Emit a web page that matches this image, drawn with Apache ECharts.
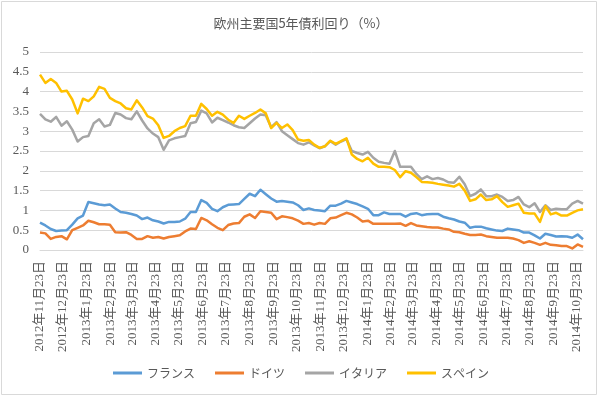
<!DOCTYPE html>
<html>
<head>
<meta charset="utf-8">
<script src="https://cdn.jsdelivr.net/npm/echarts@6/dist/echarts.min.js"></script>
<style>
  html, body { margin: 0; padding: 0; background: #fff; }
  #chart { width: 602px; height: 399px; }
</style>
</head>
<body>
<div id="chart"></div>
<script>
  // weekly observation dates (Fridays)
  const weeks = [
    '2012-11-23', '2012-11-30', '2012-12-07', '2012-12-14', '2012-12-21', '2012-12-28',
    '2013-01-04', '2013-01-11', '2013-01-18', '2013-01-25', '2013-02-01', '2013-02-08',
    '2013-02-15', '2013-02-22', '2013-03-01', '2013-03-08', '2013-03-15', '2013-03-22',
    '2013-03-29', '2013-04-05', '2013-04-12', '2013-04-19', '2013-04-26', '2013-05-03',
    '2013-05-10', '2013-05-17', '2013-05-24', '2013-05-31', '2013-06-07', '2013-06-14',
    '2013-06-21', '2013-06-28', '2013-07-05', '2013-07-12', '2013-07-19', '2013-07-26',
    '2013-08-02', '2013-08-09', '2013-08-16', '2013-08-23', '2013-08-30', '2013-09-06',
    '2013-09-13', '2013-09-20', '2013-09-27', '2013-10-04', '2013-10-11', '2013-10-18',
    '2013-10-25', '2013-11-01', '2013-11-08', '2013-11-15', '2013-11-22', '2013-11-29',
    '2013-12-06', '2013-12-13', '2013-12-20', '2013-12-27', '2014-01-03', '2014-01-10',
    '2014-01-17', '2014-01-24', '2014-01-31', '2014-02-07', '2014-02-14', '2014-02-21',
    '2014-02-28', '2014-03-07', '2014-03-14', '2014-03-21', '2014-03-28', '2014-04-04',
    '2014-04-11', '2014-04-18', '2014-04-25', '2014-05-02', '2014-05-09', '2014-05-16',
    '2014-05-23', '2014-05-30', '2014-06-06', '2014-06-13', '2014-06-20', '2014-06-27',
    '2014-07-04', '2014-07-11', '2014-07-18', '2014-07-25', '2014-08-01', '2014-08-08',
    '2014-08-15', '2014-08-22', '2014-08-29', '2014-09-05', '2014-09-12', '2014-09-19',
    '2014-09-26', '2014-10-03', '2014-10-10', '2014-10-17', '2014-10-24', '2014-10-31'
  ];

  // axis labels, one per month
  const monthTicks = [
    '2012-11-23', '2012-12-23', '2013-01-23', '2013-02-23', '2013-03-23', '2013-04-23',
    '2013-05-23', '2013-06-23', '2013-07-23', '2013-08-23', '2013-09-23', '2013-10-23',
    '2013-11-23', '2013-12-23', '2014-01-23', '2014-02-23', '2014-03-23', '2014-04-23',
    '2014-05-23', '2014-06-23', '2014-07-23', '2014-08-23', '2014-09-23', '2014-10-23'
  ];

  const france = [
    0.69, 0.62, 0.53, 0.48, 0.49, 0.50, 0.64, 0.80, 0.87, 1.21, 1.18, 1.15, 1.13,
    1.15, 1.05, 0.96, 0.94, 0.91, 0.87, 0.78, 0.82, 0.75, 0.72, 0.67, 0.71, 0.71,
    0.72, 0.79, 0.96, 0.96, 1.26, 1.19, 1.04, 0.98, 1.08, 1.14, 1.15, 1.16, 1.29,
    1.42, 1.36, 1.52, 1.41, 1.30, 1.22, 1.24, 1.22, 1.20, 1.13, 1.01, 1.05,
    1.01, 1.00, 0.98, 1.12, 1.12, 1.17, 1.24, 1.20, 1.16, 1.10, 1.04, 0.88, 0.88,
    0.95, 0.91, 0.91, 0.91, 0.84, 0.91, 0.93, 0.88, 0.90, 0.91, 0.91, 0.84, 0.80,
    0.77, 0.72, 0.69, 0.56, 0.59, 0.59, 0.55, 0.52, 0.49, 0.48, 0.54, 0.52, 0.50,
    0.44, 0.44, 0.37, 0.29, 0.41, 0.38, 0.34, 0.35, 0.34, 0.31, 0.39, 0.27
  ];
  const germany = [
    0.44, 0.42, 0.28, 0.33, 0.35, 0.27, 0.50, 0.56, 0.62, 0.74, 0.70, 0.65, 0.65,
    0.64, 0.45, 0.44, 0.45, 0.38, 0.28, 0.28, 0.35, 0.31, 0.33, 0.29, 0.33, 0.35,
    0.37, 0.47, 0.54, 0.53, 0.81, 0.75, 0.65, 0.56, 0.50, 0.63, 0.67, 0.68, 0.84,
    0.90, 0.81, 0.98, 0.96, 0.94, 0.78, 0.85, 0.83, 0.80, 0.74, 0.66, 0.68,
    0.64, 0.68, 0.66, 0.80, 0.82, 0.88, 0.94, 0.90, 0.82, 0.72, 0.74, 0.66, 0.66,
    0.66, 0.66, 0.66, 0.67, 0.61, 0.68, 0.62, 0.60, 0.58, 0.57, 0.57, 0.54, 0.52,
    0.46, 0.45, 0.41, 0.38, 0.38, 0.39, 0.35, 0.33, 0.31, 0.31, 0.31, 0.29, 0.25,
    0.18, 0.22, 0.18, 0.13, 0.18, 0.13, 0.12, 0.10, 0.10, 0.04, 0.14, 0.08
  ];
  const italy = [
    3.44, 3.30, 3.24, 3.36, 3.14, 3.25, 3.04, 2.74, 2.85, 2.88, 3.20, 3.30, 3.12,
    3.16, 3.46, 3.42, 3.33, 3.30, 3.50, 3.27, 3.07, 2.94, 2.85, 2.53, 2.77, 2.82,
    2.85, 2.88, 3.20, 3.23, 3.52, 3.45, 3.22, 3.34, 3.28, 3.22, 3.15, 3.10, 3.08,
    3.20, 3.32, 3.42, 3.40, 3.10, 3.23, 3.00, 2.90, 2.80, 2.70, 2.66, 2.72,
    2.64, 2.57, 2.62, 2.75, 2.66, 2.74, 2.80, 2.50, 2.45, 2.41, 2.48, 2.33, 2.23,
    2.20, 2.18, 2.50, 2.10, 2.10, 2.10, 1.92, 1.79, 1.86, 1.79, 1.82, 1.78, 1.71,
    1.70, 1.85, 1.66, 1.36, 1.42, 1.53, 1.36, 1.36, 1.40, 1.34, 1.24, 1.26, 1.34,
    1.15, 1.08, 1.18, 0.96, 1.13, 1.01, 1.04, 1.03, 1.03, 1.17, 1.24, 1.17
  ];
  const spain = [
    4.43, 4.22, 4.32, 4.22, 4.00, 4.02, 3.80, 3.45, 3.82, 3.76, 3.88, 4.12, 4.07,
    3.84, 3.76, 3.70, 3.58, 3.55, 3.78, 3.60, 3.38, 3.32, 3.15, 2.83, 2.88, 3.00,
    3.08, 3.13, 3.39, 3.39, 3.69, 3.56, 3.39, 3.49, 3.42, 3.29, 3.21, 3.39, 3.31,
    3.39, 3.46, 3.55, 3.45, 3.08, 3.21, 3.08, 3.17, 3.03, 2.79, 2.76, 2.78,
    2.66, 2.58, 2.62, 2.76, 2.68, 2.75, 2.82, 2.41, 2.30, 2.24, 2.33, 2.18, 2.10,
    2.10, 2.09, 2.02, 1.84, 1.99, 1.95, 1.84, 1.72, 1.71, 1.70, 1.67, 1.65, 1.63,
    1.60, 1.67, 1.50, 1.24, 1.28, 1.40, 1.26, 1.28, 1.36, 1.21, 1.09, 1.13, 1.17,
    0.94, 0.92, 0.92, 0.71, 1.11, 0.90, 0.94, 0.87, 0.87, 0.94, 1.00, 1.03
  ];

  const seriesNames = ['フランス', 'ドイツ', 'イタリア', 'スペイン'];
  const seriesColors = ['#5B9BD5', '#ED7D31', '#A5A5A5', '#FFC000'];
  const seriesValues = [france, germany, italy, spain];

  // date string -> ms timestamp, used as the x value
  const toTime = function (s) {
    const p = s.split('-');
    return new Date(+p[0], +p[1] - 1, +p[2]).getTime();
  };

  const textColor = '#595959';
  const serifFont = '"Liberation Serif", "Noto Sans CJK JP", serif';

  const chart = echarts.init(document.getElementById('chart'));
  chart.setOption({
    animation: false,
    title: {
      text: '欧州主要国5年債利回り（%）',
      left: 'center',
      top: 12,
      textStyle: {
        color: textColor,
        fontSize: 13,
        fontWeight: 'normal',
        fontFamily: '"Noto Sans CJK JP", sans-serif',
      },
    },
    legend: {
      bottom: 15,
      left: 'center',
      icon: 'rect',
      itemWidth: 29,
      itemHeight: 3,
      itemGap: 20,
      textStyle: {
        color: textColor,
        fontSize: 12,
        fontFamily: '"Noto Sans CJK JP", sans-serif',
      },
      data: seriesNames,
    },
    grid: {
      left: 40,
      right: 19,
      top: 52,
      bottom: 149,
    },
    xAxis: {
      type: 'value',
      min: toTime(weeks[0]),
      max: toTime(weeks[weeks.length - 1]),
      axisLine: { onZero: false, lineStyle: { color: '#D9D9D9', width: 1 } },
      axisTick: { show: false },
      splitLine: { show: false },
      axisLabel: {
        customValues: monthTicks.map(toTime),
        rotate: 90,
        margin: 11,
        color: textColor,
        fontSize: 13,
        fontFamily: serifFont,
        formatter: function (value) {
          const d = new Date(value);
          return d.getFullYear() + '年' + (d.getMonth() + 1) + '月' + d.getDate() + '日';
        },
      },
    },
    yAxis: {
      type: 'value',
      min: 0,
      max: 5,
      interval: 0.5,
      axisLine: { show: false },
      axisTick: { show: false },
      splitLine: { lineStyle: { color: '#D9D9D9', width: 1 } },
      axisLabel: {
        color: textColor,
        fontSize: 13,
        margin: 11,
        fontFamily: serifFont,
      },
    },
    graphic: [
      {
        type: 'rect',
        shape: { x: 1.5, y: 1.5, width: 595, height: 393 },
        style: { fill: 'none', stroke: '#D9D9D9', lineWidth: 1 },
        silent: true,
      },
    ],
    series: seriesNames.map(function (name, i) {
      return {
        name: name,
        type: 'line',
        showSymbol: false,
        symbol: 'none',
        color: seriesColors[i],
        lineStyle: { width: 2.5, color: seriesColors[i], join: 'round' },
        data: weeks.map(function (d, j) {
          return [toTime(d), seriesValues[i][j]];
        }),
      };
    }),
  });
</script>
</body>
</html>
